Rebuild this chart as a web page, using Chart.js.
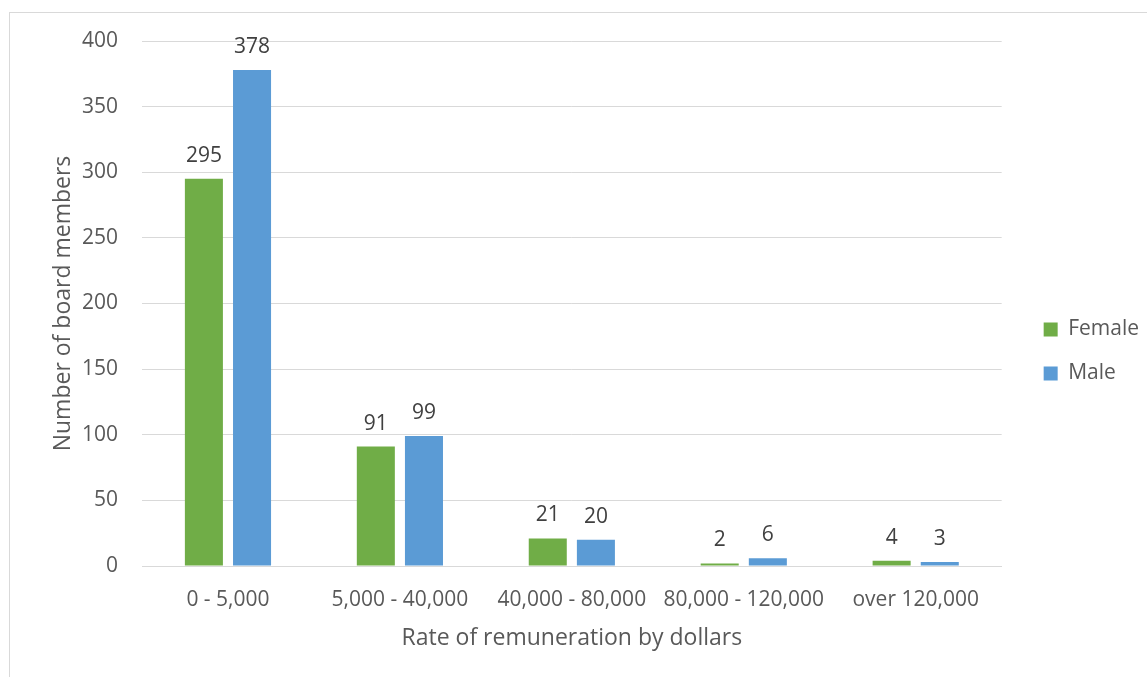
<!DOCTYPE html>
<html>
<head>
<meta charset="utf-8">
<script src="https://cdn.jsdelivr.net/npm/chart.js@4"></script>
<style>
  html, body { margin: 0; padding: 0; background: #fff; }
  #wrap { position: relative; width: 1147px; height: 677px; overflow: hidden; }
  #frame { position: absolute; left: 9px; top: 12px; width: 1200px; height: 700px; border: 1px solid #d9d9d9; box-sizing: border-box; }
  canvas { position: absolute; left: 0; top: 0; }
</style>
</head>
<body>
<div id="wrap">
  <div id="frame"></div>
  <canvas id="myChart" width="1147" height="677"></canvas>
</div>
<script>
// chart data
const categories = ['0 - 5,000', '5,000 - 40,000', '40,000 - 80,000', '80,000 - 120,000', 'over 120,000'];
const femaleValues = [295, 91, 21, 2, 4];
const maleValues = [378, 99, 20, 6, 3];
const yTicks = [0, 50, 100, 150, 200, 250, 300, 350, 400];

const textColor = '#595959';
const fontFamily = "'Open Sans', sans-serif";

// draws the value above each bar
const barLabels = {
    id: 'barLabels',
    afterDatasetsDraw(chart) {
        const ctx = chart.ctx;
        ctx.save();
        ctx.font = '21px ' + fontFamily;
        ctx.fillStyle = '#404040';
        ctx.textAlign = 'center';
        ctx.textBaseline = 'middle';
        chart.data.datasets.forEach((ds, i) => {
            chart.getDatasetMeta(i).data.forEach((bar, j) => {
                ctx.fillText(ds.data[j], bar.x, bar.y - 23);
            });
        });
        ctx.restore();
    }
};

// nudge legend box a bit away from the plot area
const legendNudge = {
    id: 'legendNudge',
    afterLayout(chart) {
        chart.legend.left += 19;
        chart.legend.right += 19;
        chart.legend.top += 5;
        chart.legend.bottom += 5;
    }
};

const config = {
    type: 'bar',
    data: {
        labels: categories,
        datasets: [{
            label: 'Female',
            data: femaleValues,
            backgroundColor: '#70ad47',
            categoryPercentage: 0.56,
            barPercentage: 0.79
        }, {
            label: 'Male',
            data: maleValues,
            backgroundColor: '#5b9bd5',
            categoryPercentage: 0.56,
            barPercentage: 0.79
        }]
    },
    options: {
        responsive: false,
        animation: false,
        layout: { padding: { left: 50, right: 17, top: 41, bottom: 25 } },
        plugins: {
            tooltip: { enabled: false },
            legend: {
                position: 'right',
                labels: {
                    color: textColor,
                    font: { family: fontFamily, size: 21 },
                    boxWidth: 14,
                    boxHeight: 14,
                    padding: 23
                }
            }
        },
        scales: {
            x: {
                afterFit(scale) { scale.height = 86; },
                grid: { display: false },
                border: { display: true, color: '#d9d9d9', width: 1 },
                ticks: { color: textColor, font: { family: fontFamily, size: 21 }, padding: 13, maxRotation: 0 },
                title: {
                    display: true,
                    text: 'Rate of remuneration by dollars',
                    color: textColor,
                    font: { family: fontFamily, size: 23 },
                    padding: { top: 0, bottom: 0 }
                }
            },
            y: {
                min: 0,
                max: 400,
                afterFit(scale) { scale.width = 92; },
                afterBuildTicks(scale) { scale.ticks = yTicks.map(v => ({ value: v })); },
                grid: { color: '#d9d9d9', drawTicks: false },
                border: { display: false },
                ticks: { color: textColor, font: { family: fontFamily, size: 21 }, padding: 24 },
                title: {
                    display: true,
                    text: 'Number of board members',
                    color: textColor,
                    font: { family: fontFamily, size: 23 },
                    padding: { top: 0, bottom: 0 }
                }
            }
        }
    },
    plugins: [barLabels, legendNudge]
};

const myChart = new Chart(document.getElementById('myChart'), config);
</script>
</body>
</html>
